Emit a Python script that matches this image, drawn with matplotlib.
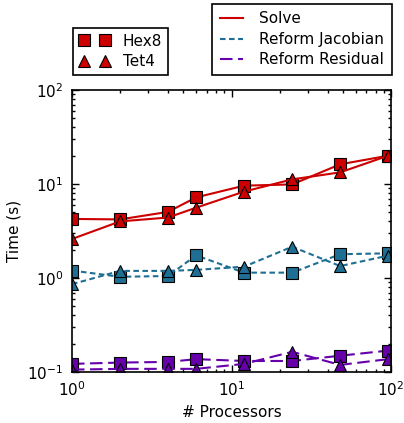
import matplotlib
matplotlib.use('Agg')
import matplotlib.pyplot as plt
from matplotlib.lines import Line2D

# processor counts
procs = [1, 2, 4, 6, 12, 24, 48, 96]

# timings (s)
solve_hex8 = [4.25, 4.2, 5.05, 7.2, 9.6, 9.9, 16.2, 20.0]
solve_tet4 = [2.6, 4.0, 4.4, 5.6, 8.3, 11.2, 13.3, 20.0]
jac_hex8 = [1.2, 1.03, 1.05, 1.74, 1.14, 1.14, 1.79, 1.83]
jac_tet4 = [0.86, 1.19, 1.19, 1.22, 1.32, 2.15, 1.34, 1.73]
res_hex8 = [0.122, 0.126, 0.128, 0.137, 0.131, 0.131, 0.149, 0.169]
res_tet4 = [0.106, 0.108, 0.108, 0.108, 0.122, 0.164, 0.119, 0.137]

red = '#cc0000'
blue = '#1f6f94'
purple = '#6600aa'

plt.rcParams['lines.scale_dashes'] = False
plt.rcParams['font.size'] = 11

fig = plt.figure(figsize=(4.04, 4.23), dpi=100)
ax = fig.add_axes([72 / 404, 1 - 372 / 423, 319 / 404, 282 / 423])

jd = (4, 2.5)
rd = (9, 4)
ms = 9.3
kw = dict(markersize=ms, markeredgecolor='black', markeredgewidth=0.8, linewidth=1.5)

ax.plot(procs, solve_hex8, color=red, marker='s', **kw)
ax.plot(procs, solve_tet4, color=red, marker='^', **kw)
ax.plot(procs, jac_hex8, color=blue, marker='s', dashes=jd, **kw)
ax.plot(procs, jac_tet4, color=blue, marker='^', dashes=jd, **kw)
ax.plot(procs, res_hex8, color=purple, marker='s', dashes=rd, **kw)
ax.plot(procs, res_tet4, color=purple, marker='^', dashes=rd, **kw)

ax.set_xscale('log')
ax.set_yscale('log')
ax.set_xlim(1, 100)
ax.set_ylim(0.1, 100)
ax.set_xlabel('# Processors')
ax.set_ylabel('Time (s)')
ax.tick_params(which='both', direction='in', top=True, right=True, labelsize=11)
ax.tick_params(which='major', length=5, width=1, pad=6)
ax.tick_params(which='minor', length=2.5, width=1)
for s in ax.spines.values():
    s.set_linewidth(1.2)

# legends above the axes
mk = [Line2D([], [], color=red, marker='s', linestyle='none', markersize=9,
             markeredgecolor='black', markeredgewidth=0.8),
      Line2D([], [], color=red, marker='^', linestyle='none', markersize=9,
             markeredgecolor='black', markeredgewidth=0.8)]
leg1 = fig.legend(mk, ['Hex8', 'Tet4'], loc='lower left', numpoints=2,
                  bbox_to_anchor=(73 / 404, 1 - 75 / 423), fancybox=False,
                  edgecolor='black', framealpha=1, borderaxespad=0,
                  handlelength=2.0, handletextpad=0.85, labelspacing=0.33,
                  borderpad=0.4)
leg1.get_frame().set_linewidth(1.2)

ln = [Line2D([], [], color=red, linewidth=1.5),
      Line2D([], [], color=blue, linewidth=1.5, dashes=jd),
      Line2D([], [], color=purple, linewidth=1.5, dashes=rd)]
leg2 = fig.legend(ln, ['Solve', 'Reform Jacobian', 'Reform Residual'],
                  loc='lower right', bbox_to_anchor=(392 / 404, 1 - 75 / 423),
                  fancybox=False, edgecolor='black', framealpha=1, borderaxespad=0,
                  handlelength=1.5, handletextpad=1.1, labelspacing=0.36,
                  borderpad=0.5)
leg2.get_frame().set_linewidth(1.2)

fig.savefig('out.png', dpi=100)
